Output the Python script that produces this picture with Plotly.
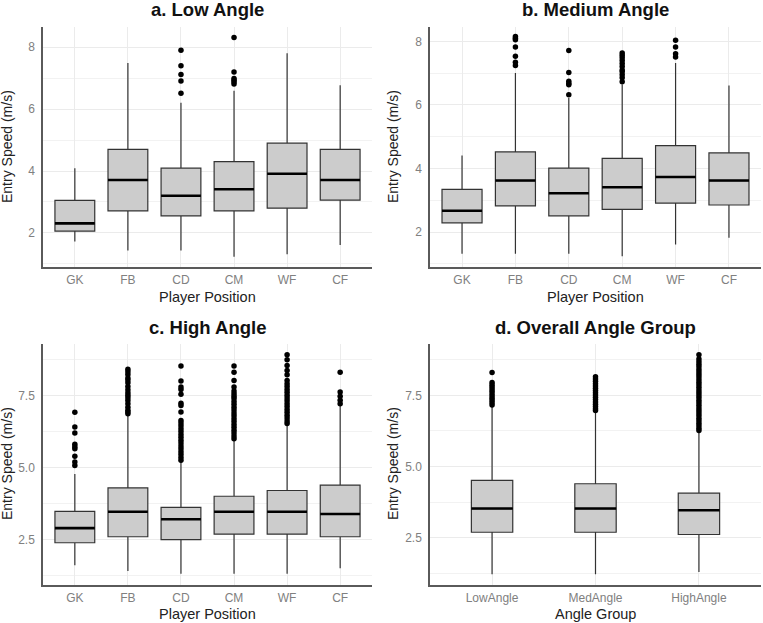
import plotly.graph_objects as go

W, H = 763, 623

positions = ["GK", "FB", "CD", "CM", "WF", "CF"]
groups = ["LowAngle", "MedAngle", "HighAngle"]

# a. Low Angle
low_lo = [1.72, 1.43, 1.43, 1.23, 1.31, 1.61]
low_q1 = [2.06, 2.71, 2.55, 2.71, 2.80, 3.06]
low_med = [2.31, 3.71, 3.20, 3.41, 3.91, 3.71]
low_q3 = [3.05, 4.70, 4.09, 4.30, 4.90, 4.70]
low_hi = [4.09, 7.49, 6.20, 6.59, 7.80, 6.77]
low_out = {
    "CD": [7.90, 7.40, 7.12, 6.91, 6.51],
    "CM": [8.31, 7.20, 6.99, 6.93, 6.87, 6.81],
}

# b. Medium Angle
med_lo = [1.32, 1.32, 1.32, 1.24, 1.61, 1.82]
med_q1 = [2.29, 2.82, 2.51, 2.71, 2.91, 2.85]
med_med = [2.67, 3.62, 3.22, 3.41, 3.73, 3.62]
med_q3 = [3.34, 4.52, 4.01, 4.32, 4.72, 4.49]
med_hi = [4.41, 7.00, 6.22, 6.64, 7.32, 6.61]
med_out = {
    "FB": [8.15, 8.10, 8.05, 7.82, 7.53, 7.34, 7.24],
    "CD": [7.71, 7.02, 6.74, 6.67, 6.63, 6.32],
    "CM": [7.63, 7.56, 7.48, 7.40, 7.30, 7.21, 7.10, 7.04, 6.95, 6.85, 6.73],
    "WF": [8.03, 7.82, 7.61, 7.51],
}

# c. High Angle
high_lo = [1.60, 1.40, 1.30, 1.30, 1.30, 1.49]
high_q1 = [2.38, 2.59, 2.49, 2.68, 2.68, 2.59]
high_med = [2.89, 3.46, 3.20, 3.46, 3.46, 3.38]
high_q3 = [3.47, 4.29, 3.61, 4.00, 4.20, 4.39]
high_hi = [4.77, 6.85, 5.20, 5.95, 6.45, 7.15]
high_out = {
    "GK": [6.92, 6.41, 6.20, 5.81, 5.72, 5.65, 5.39, 5.19, 5.07],
    "FB": [8.42, 8.33, 8.24, 8.12, 8.05, 7.95, 7.82, 7.71, 7.60, 7.52, 7.43,
           7.33, 7.22, 7.10, 6.99, 6.93, 6.87],
    "CD": [8.53, 8.01, 7.80, 7.72, 7.55, 7.24, 7.16, 6.93, 6.64, 6.55, 6.45,
           6.35, 6.25, 6.15, 6.05, 5.95, 5.85, 5.75, 5.65, 5.55, 5.45, 5.35, 5.25],
    "CM": [8.53, 8.32, 8.03, 7.80, 7.66, 7.57, 7.48, 7.40, 7.30, 7.20, 7.10,
           7.00, 6.90, 6.80, 6.70, 6.60, 6.50, 6.40, 6.30, 6.20, 6.10, 6.00],
    "WF": [8.93, 8.75, 8.55, 8.38, 8.23, 8.03, 7.92, 7.82, 7.72, 7.62, 7.52,
           7.42, 7.32, 7.22, 7.12, 7.02, 6.92, 6.82, 6.72, 6.62, 6.53],
    "CF": [8.32, 7.63, 7.48, 7.34, 7.22],
}

# d. Overall Angle Group
all_lo = [1.23, 1.23, 1.31]
all_q1 = [2.70, 2.70, 2.62]
all_med = [3.53, 3.53, 3.47]
all_q3 = [4.52, 4.40, 4.07]
all_hi = [7.10, 6.95, 6.22]
all_out = {
    "LowAngle": [8.30, 7.95, 7.87, 7.80, 7.72, 7.64, 7.56, 7.48, 7.40, 7.32,
                 7.24, 7.16],
    "MedAngle": [8.15, 8.07, 7.99, 7.91, 7.83, 7.75, 7.67, 7.59, 7.51, 7.43,
                 7.35, 7.27, 7.19, 7.11, 7.03, 6.97],
    "HighAngle": [8.92, 8.77, 8.68, 8.59, 8.50, 8.41, 8.32, 8.23, 8.14, 8.05,
                  7.96, 7.87, 7.78, 7.69, 7.60, 7.51, 7.42, 7.33, 7.24, 7.15,
                  7.06, 6.97, 6.88, 6.79, 6.70, 6.61, 6.52, 6.43, 6.35, 6.27],
}

FONT = "Liberation Sans, Arial, sans-serif"
BOX_FILL = "#CCCCCC"
BOX_LINE = "#333333"
GRID = "#EBEBEB"
AXIS_LINE = "#5a5a5a"
TICK_COL = "#808080"

fig = go.Figure()

panels = [
    dict(cats=positions, lo=low_lo, q1=low_q1, med=low_med, q3=low_q3, hi=low_hi,
         out=low_out, width=0.75, xa="x", ya="y"),
    dict(cats=positions, lo=med_lo, q1=med_q1, med=med_med, q3=med_q3, hi=med_hi,
         out=med_out, width=0.75, xa="x2", ya="y2"),
    dict(cats=positions, lo=high_lo, q1=high_q1, med=high_med, q3=high_q3, hi=high_hi,
         out=high_out, width=0.75, xa="x3", ya="y3"),
    dict(cats=groups, lo=all_lo, q1=all_q1, med=all_med, q3=all_q3, hi=all_hi,
         out=all_out, width=0.4, xa="x4", ya="y4"),
]

for p in panels:
    idx = list(range(len(p["cats"])))
    fig.add_trace(go.Box(
        x=idx, q1=p["q1"], median=p["med"], q3=p["q3"],
        lowerfence=p["lo"], upperfence=p["hi"],
        width=p["width"], whiskerwidth=0, boxpoints=False,
        fillcolor=BOX_FILL, line=dict(color=BOX_LINE, width=1.2),
        xaxis=p["xa"], yaxis=p["ya"], showlegend=False, hoverinfo="skip",
    ))
    # thick median lines
    mx, my = [], []
    for i, m in zip(idx, p["med"]):
        mx += [i - p["width"] / 2, i + p["width"] / 2, None]
        my += [m, m, None]
    fig.add_trace(go.Scatter(
        x=mx, y=my, mode="lines", line=dict(color="black", width=2.6),
        xaxis=p["xa"], yaxis=p["ya"], showlegend=False, hoverinfo="skip",
    ))
    ox, oy = [], []
    for c, vals in p["out"].items():
        i = p["cats"].index(c)
        ox += [i] * len(vals)
        oy += vals
    fig.add_trace(go.Scatter(
        x=ox, y=oy, mode="markers", marker=dict(color="black", size=5.5),
        xaxis=p["xa"], yaxis=p["ya"], showlegend=False, hoverinfo="skip",
    ))

def px_x(a, b):
    return [a / W, b / W]

def px_y(top, bottom):
    return [1 - bottom / H, 1 - top / H]

xdom_l = px_x(43, 372)
xdom_r = px_x(430, 761)
ydom_t = px_y(27, 267)
ydom_b = px_y(344, 585)

def xaxis(dom, anchor, cats):
    n = len(cats)
    return dict(
        domain=dom, anchor=anchor, range=[-0.6, n - 1 + 0.6],
        tickmode="array", tickvals=list(range(n)), ticktext=cats,
        showgrid=True, gridcolor=GRID, gridwidth=1, zeroline=False,
        showline=True, linecolor=AXIS_LINE, linewidth=1.5, ticks="",
        tickfont=dict(family=FONT, size=12, color=TICK_COL),
        ticklabelstandoff=1,
    )

def yaxis(dom, anchor, rng, dtick):
    return dict(
        domain=dom, anchor=anchor, range=rng, tick0=0, dtick=dtick,
        tickformat=".1f" if dtick == 2.5 else "d",
        showgrid=True, gridcolor=GRID, gridwidth=1, zeroline=False,
        showline=True, linecolor=AXIS_LINE, linewidth=1.5, ticks="",
        tickfont=dict(family=FONT, size=12, color=TICK_COL),
        minor=dict(tick0=0, dtick=dtick / 2, showgrid=True, gridcolor="#F2F2F2",
                   gridwidth=0.6),
        ticklabelstandoff=4,
    )

fig.update_layout(
    width=W, height=H, margin=dict(l=0, r=0, t=0, b=0),
    plot_bgcolor="white", paper_bgcolor="white",
    font=dict(family=FONT, color="#222"),
    xaxis=xaxis(xdom_l, "y", positions),
    yaxis=yaxis(ydom_t, "x", [0.90, 8.65], 2),
    xaxis2=xaxis(xdom_r, "y2", positions),
    yaxis2=yaxis(ydom_t, "x2", [0.90, 8.45], 2),
    xaxis3=xaxis(xdom_l, "y3", positions),
    yaxis3=yaxis(ydom_b, "x3", [0.91, 9.30], 2.5),
    xaxis4=xaxis(xdom_r, "y4", groups),
    yaxis4=yaxis(ydom_b, "x4", [0.85, 9.30], 2.5),
)

titles = ["a. Low Angle", "b. Medium Angle", "c. High Angle", "d. Overall Angle Group"]
xlabels = ["Player Position", "Player Position", "Player Position", "Angle Group"]
xdoms = [xdom_l, xdom_r, xdom_l, xdom_r]
title_y = [10, 10, 327, 327]
xlab_y = [297, 297, 614, 614]
ylab_x = [7, 393, 7, 393]
ylab_mid = [147, 147, 464, 464]

for t, xl, d, ty, xy, yx, ym in zip(titles, xlabels, xdoms, title_y, xlab_y, ylab_x, ylab_mid):
    cx = (d[0] + d[1]) / 2
    fig.add_annotation(text=f"<b>{t}</b>", x=cx, y=1 - ty / H, xref="paper", yref="paper",
                       showarrow=False, xanchor="center", yanchor="middle",
                       font=dict(family=FONT, size=18.5, color="#111"))
    fig.add_annotation(text=xl, x=cx, y=1 - xy / H, xref="paper", yref="paper",
                       showarrow=False, xanchor="center", yanchor="middle",
                       font=dict(family=FONT, size=14.5, color="#222"))
    fig.add_annotation(text="Entry Speed (m/s)", x=yx / W, y=1 - ym / H,
                       xref="paper", yref="paper", textangle=-90,
                       showarrow=False, xanchor="center", yanchor="middle",
                       font=dict(family=FONT, size=14, color="#222"))

fig.write_html("out.html")
